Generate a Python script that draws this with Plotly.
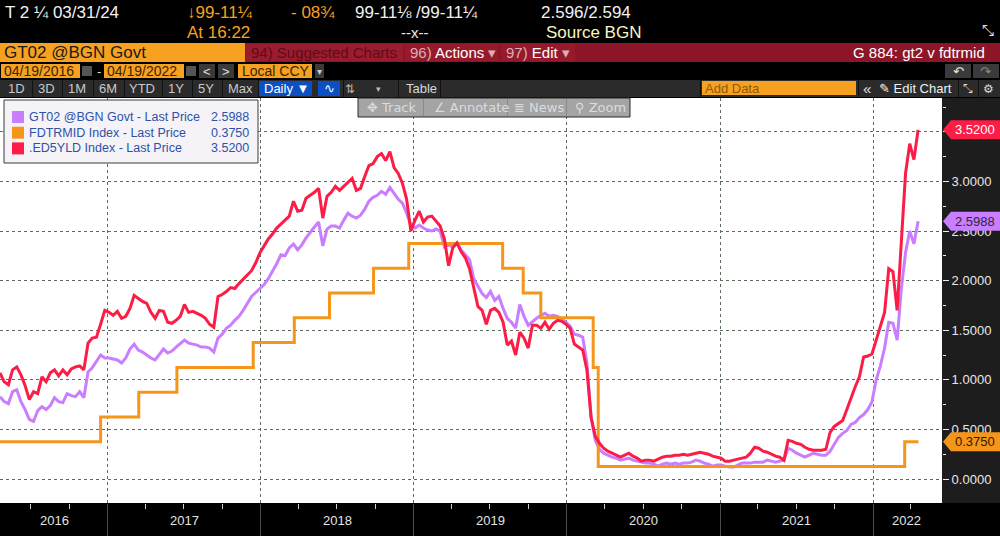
import pandas as pd
import plotly.graph_objects as go

# 10-day samples, 19 Apr 2016 -> 18 Apr 2022
dates = pd.date_range("2016-04-19", periods=220, freq="10D")

gt02 = [
    0.83, 0.78, 0.76, 0.88, 0.90, 0.78, 0.70, 0.60, 0.58, 0.69,
    0.73, 0.70, 0.74, 0.82, 0.78, 0.77, 0.86, 0.84, 0.83, 0.88,
    0.82, 1.08, 1.12, 1.18, 1.25, 1.22, 1.22, 1.21, 1.20, 1.17,
    1.22, 1.31, 1.36, 1.30, 1.28, 1.25, 1.22, 1.20, 1.26, 1.31,
    1.27, 1.29, 1.33, 1.37, 1.40, 1.37, 1.36, 1.35, 1.33, 1.33,
    1.32, 1.28, 1.42, 1.46, 1.52, 1.55, 1.60, 1.64, 1.70, 1.77,
    1.84, 1.88, 1.92, 1.96, 2.02, 2.09, 2.17, 2.26, 2.25, 2.33,
    2.37, 2.31, 2.36, 2.43, 2.49, 2.54, 2.59, 2.35, 2.52, 2.55,
    2.55, 2.53, 2.61, 2.68, 2.65, 2.63, 2.66, 2.72, 2.80, 2.84,
    2.86, 2.90, 2.87, 2.94, 2.88, 2.82, 2.78, 2.68, 2.56, 2.53,
    2.56, 2.53, 2.51, 2.50, 2.52, 2.50, 2.34, 2.36, 2.34, 2.38,
    2.31, 2.26, 2.21, 2.02, 1.94, 1.87, 1.83, 1.89, 1.80, 1.84,
    1.72, 1.62, 1.58, 1.52, 1.76, 1.64, 1.55, 1.59, 1.62, 1.65,
    1.67, 1.64, 1.65, 1.64, 1.61, 1.58, 1.54, 1.46, 1.45, 1.43,
    1.17, 0.62, 0.39, 0.30, 0.26, 0.24, 0.22, 0.21, 0.19, 0.20,
    0.21, 0.19, 0.18, 0.17, 0.16, 0.16, 0.15, 0.13, 0.15, 0.16,
    0.15, 0.16, 0.15, 0.16, 0.16, 0.17, 0.19, 0.18, 0.16, 0.15,
    0.13, 0.14, 0.14, 0.13, 0.12, 0.12, 0.14, 0.16, 0.16, 0.16,
    0.17, 0.17, 0.17, 0.19, 0.18, 0.17, 0.18, 0.19, 0.31, 0.29,
    0.26, 0.24, 0.22, 0.24, 0.26, 0.25, 0.24, 0.24, 0.28, 0.35,
    0.42, 0.46, 0.49, 0.55, 0.57, 0.62, 0.65, 0.70, 0.78, 1.00,
    1.14, 1.32, 1.58, 1.57, 1.40, 1.92, 2.28, 2.50, 2.37, 2.5988,
]

ed5yld = [
    1.07, 0.98, 0.95, 1.10, 1.13, 1.05, 0.94, 0.80, 0.88, 0.86,
    1.03, 0.98, 1.07, 1.10, 1.04, 1.10, 1.05, 1.11, 1.13, 1.14,
    1.10, 1.37, 1.42, 1.43, 1.56, 1.70, 1.68, 1.65, 1.69, 1.62,
    1.64, 1.72, 1.85, 1.82, 1.79, 1.77, 1.68, 1.62, 1.70, 1.69,
    1.58, 1.57, 1.60, 1.64, 1.76, 1.68, 1.69, 1.67, 1.65, 1.62,
    1.56, 1.53, 1.84, 1.86, 1.89, 1.93, 1.92, 1.97, 2.01, 2.05,
    2.10, 2.18, 2.28, 2.35, 2.42, 2.47, 2.53, 2.57, 2.61, 2.65,
    2.80, 2.70, 2.71, 2.83, 2.86, 2.89, 2.93, 2.63, 2.85, 2.89,
    2.95, 2.91, 2.95, 2.99, 3.03, 2.91, 2.93, 3.05, 3.16, 3.18,
    3.25, 3.28, 3.21, 3.30, 3.14, 3.08, 2.98, 2.82, 2.50, 2.61,
    2.70, 2.59, 2.64, 2.65, 2.60, 2.55, 2.42, 2.15, 2.33, 2.38,
    2.29, 2.23, 2.12, 1.92, 1.74, 1.70, 1.56, 1.70, 1.72, 1.68,
    1.58, 1.35, 1.39, 1.25, 1.48, 1.42, 1.32, 1.55, 1.55, 1.52,
    1.58, 1.51, 1.57, 1.60, 1.59, 1.56, 1.52, 1.36, 1.33, 1.30,
    1.10, 0.62, 0.43, 0.36, 0.31, 0.28, 0.26, 0.24, 0.22, 0.24,
    0.26, 0.23, 0.21, 0.18, 0.19, 0.19, 0.18, 0.20, 0.22, 0.23,
    0.23, 0.24, 0.24, 0.25, 0.24, 0.25, 0.26, 0.27, 0.26, 0.25,
    0.23, 0.22, 0.21, 0.18, 0.18, 0.19, 0.20, 0.21, 0.22, 0.26,
    0.32, 0.31, 0.28, 0.27, 0.25, 0.23, 0.22, 0.19, 0.39, 0.38,
    0.36, 0.35, 0.32, 0.30, 0.29, 0.29, 0.29, 0.30, 0.47, 0.53,
    0.56, 0.59, 0.70, 0.82, 0.93, 1.03, 1.23, 1.24, 1.26, 1.40,
    1.55, 1.68, 2.12, 2.09, 1.70, 2.40, 3.08, 3.38, 3.22, 3.52,
]

# fed funds target midpoint, date of each move
fed_dates = ["2016-04-19", "2016-12-15", "2017-03-16", "2017-06-15", "2017-12-14",
             "2018-03-22", "2018-06-14", "2018-09-27", "2018-12-20", "2019-08-01",
             "2019-09-19", "2019-10-31", "2020-03-04", "2020-03-16", "2022-03-17",
             "2022-04-19"]
fdtrmid = [0.375, 0.625, 0.875, 1.125, 1.375, 1.625, 1.875, 2.125, 2.375, 2.125,
           1.875, 1.625, 1.125, 0.125, 0.375, 0.375]

year_starts = ["2017-01-01", "2018-01-01", "2019-01-01", "2020-01-01", "2021-01-01", "2022-01-01"]
year_labels = ["2016", "2017", "2018", "2019", "2020", "2021", "2022"]
year_label_dates = ["2016-08-28", "2017-07-02", "2018-07-02", "2019-07-02",
                    "2020-07-02", "2021-07-02", "2022-03-22"]

y_ticks = [0, 0.5, 1.0, 1.5, 2.0, 2.5, 3.0, 3.5]
y_tick_text = ["0.0000", "0.5000", "1.0000", "1.5000", "2.0000", "2.5000", "3.0000", ""]

series_names = ["GT02 @BGN Govt - Last Price", "FDTRMID Index - Last Price", ".ED5YLD Index - Last Price"]

PURPLE = "#c97dff"
ORANGE = "#f5961b"
RED = "#fb1d45"
AMBER = "#f6a11f"
FONT = "Liberation Sans, Arial, sans-serif"
SYM = "DejaVu Sans"

W, H = 1000, 536
ML, MR, MT, MB = 0, 58, 98, 33
PW, PH = W - ML - MR, H - MT - MB

shapes = []
annotations = []


def px(x):
    return (x - ML) / PW


def py(y):
    return (H - MB - y) / PH


def box(x0, y0, x1, y1, fill, line=None, layer="above"):
    shapes.append(dict(type="rect", xref="paper", yref="paper",
                       x0=px(x0), x1=px(x1), y0=py(y1), y1=py(y0),
                       fillcolor=fill, layer=layer,
                       line=dict(width=1 if line else 0, color=line or fill)))


def text(x, y, s, color, size=14, anchor="left", family=FONT):
    annotations.append(dict(xref="paper", yref="paper", x=px(x), y=py(y), text=s,
                            showarrow=False, xanchor=anchor, yanchor="middle",
                            borderpad=0, font=dict(color=color, size=size, family=family)))


# ---- terminal header ----
text(4, 12, "T 2 ¼ 03/31/24", "#f2f2f2", 17)
text(186, 12, "↓99-11¼", AMBER, 17)
text(290, 12, "- 08¾", AMBER, 17)
text(354, 12, "99-11⅛ /99-11¼", "#f2f2f2", 17)
text(540, 12, "2.596/2.594", "#f2f2f2", 17)
text(186, 32, "At 16:22", AMBER, 17)
text(400, 32, "--x--", "#e8e8e8", 15)
text(545, 32, "Source BGN", "#f8f4c0", 17)
text(988, 30, "⤡", "#e0e0e0", 15, "center", SYM)

# red command bar
box(0, 43, 1000, 62, "#8c1628", layer="below")
box(0, 43, 245, 62, AMBER, layer="below")
text(3, 52.5, "GT02 @BGN Govt", "#1a1a1a", 17)
box(246, 44, 403, 61, "#9b1c2e", layer="below")
text(250, 52.5, "94) Suggested Charts", "#5e0c18", 15)
box(405, 44, 498, 61, "#971a2c", layer="below")
text(409, 52.5, "96) <span style='color:#ffffff'>Actions</span> ▾", "#d8b0b8", 15)
box(501, 44, 575, 61, "#971a2c", layer="below")
text(505, 52.5, "97) <span style='color:#ffffff'>Edit</span> ▾", "#d8b0b8", 15)
text(986, 52.5, "G 884: gt2 v fdtrmid", "#ffffff", 15, "right")

# date range row
box(1, 64, 80, 78, AMBER, layer="below")
text(3, 71, "04/19/2016", "#3a2400", 14)
box(82, 66, 92, 76, "#555555", layer="below")
text(99, 71, "-", "#dddddd", 13, "center")
box(104, 64, 184, 78, AMBER, layer="below")
text(106, 71, "04/19/2022", "#3a2400", 14)
box(186, 66, 196, 76, "#555555", layer="below")
box(199, 64, 215, 78, "#3a3a3a", layer="below")
text(207, 71, "<", "#e0e0e0", 13, "center")
box(218, 64, 234, 78, "#3a3a3a", layer="below")
text(226, 71, ">", "#e0e0e0", 13, "center")
box(238, 64, 312, 78, AMBER, layer="below")
text(241, 71, "Local CCY", "#3a2400", 14)
box(315, 64, 324, 78, "#3a3a3a", layer="below")
text(319.5, 71, "▾", "#cccccc", 10, "center", SYM)
box(945, 64, 971, 78, "#3a3a3a", layer="below")
box(973, 64, 999, 78, "#3a3a3a", layer="below")
text(958, 71, "↶", "#e8e8e8", 13, "center", SYM)
text(986, 71, "↷", "#888888", 13, "center", SYM)

# period buttons row
box(0, 80, 1000, 97, "#2b2b2b", layer="below")
for lbl, xc in [("1D", 16), ("3D", 46), ("1M", 77), ("6M", 108), ("YTD", 142),
                ("1Y", 176), ("5Y", 206), ("Max", 240)]:
    text(xc, 88.5, lbl, "#c8c8c8", 13, "center")
for xs in [32, 62, 93, 124, 162, 192, 222, 258, 343, 398, 440, 700, 858, 958, 978]:
    box(xs, 80, xs + 1, 97, "#111111", layer="below")
box(259, 81, 312, 96, "#0a4fc4", layer="below")
text(263, 88.5, "Daily ▼", "#ffffff", 13)
box(318, 81, 340, 96, "#0a4fc4", layer="below")
text(329, 88.5, "∿", "#ffffff", 13, "center", SYM)
text(350, 88.5, "⇅", "#bbbbbb", 12, "center", SYM)
text(378, 88.5, "▾", "#bbbbbb", 9, "center", SYM)
text(405, 88.5, "Table", "#d8d8d8", 13)
box(702, 81, 856, 95, AMBER, layer="below")
text(704, 88.5, "Add Data", "#8a5a10", 13)
text(867, 88.5, "«", "#e0e0e0", 15, "center")
text(878, 88.5, "✎ Edit Chart", "#f0f0f0", 13)
text(968, 88.5, "⤡", "#dddddd", 12, "center", SYM)
text(988, 88.5, "⚙", "#dddddd", 12, "center", SYM)

# right value panel
box(942, 98, 1000, 503, "#1d1d1d", layer="below")

# chart tool strip
box(358, 98, 630, 117, "#a4a4a4", line="#2a2a2a")
for xs in [423, 507, 566]:
    box(xs, 99, xs + 1, 116, "#8a8a8a")
text(366, 107.5, "✥ Track", "#dcdcdc", 13, family=SYM)
text(433, 107.5, "∠ Annotate", "#dcdcdc", 13, family=SYM)
text(513, 107.5, "≣ News", "#dcdcdc", 13, family=SYM)
text(574, 107.5, "⚲ Zoom", "#dcdcdc", 13, family=SYM)

# legend box
box(4, 100, 258, 163, "#f5f2f8", line="#3a3a3a")
last_vals = [gt02[-1], fdtrmid[-1], ed5yld[-1]]
for i, (nm, col, val) in enumerate(zip(series_names, [PURPLE, ORANGE, RED], last_vals)):
    yc = 117 + i * 15.7
    box(12, yc - 6, 24, yc + 6, col)
    text(28, yc, nm, "#2b53a8", 12.5)
    text(250, yc, f"{val:.4f}", "#2b53a8", 12.5, "right")

# last-value tags on the right axis
h = 9.5 / (PH / 4.083)
for val, col, tc in [(ed5yld[-1], RED, "#ffffff"), (gt02[-1], PURPLE, "#2a2a3a"),
                     (fdtrmid[-1], ORANGE, "#2a2000")]:
    shapes.append(dict(type="path", xref="paper", yref="y", layer="above",
                       path=f"M {px(943)},{val} L {px(951)},{val + h} L {px(1000)},{val + h} "
                            f"L {px(1000)},{val - h} L {px(951)},{val - h} Z",
                       fillcolor=col, line=dict(width=0)))
    annotations.append(dict(xref="paper", yref="y", x=px(975), y=val, text=f"{val:.4f}",
                            showarrow=False, xanchor="center", yanchor="middle",
                            font=dict(color=tc, size=13, family=FONT)))

# year labels under the axis
for lbl, d in zip(year_labels, year_label_dates):
    annotations.append(dict(xref="x", yref="paper", x=d, y=py(520), text=lbl,
                            showarrow=False, xanchor="center", yanchor="middle",
                            font=dict(color="#e4e4e4", size=13, family=FONT)))

fig = go.Figure()

fig.add_trace(go.Scatter(x=dates, y=gt02, mode="lines", name=series_names[0],
                         line=dict(color=PURPLE, width=3)))
fig.add_trace(go.Scatter(x=fed_dates, y=fdtrmid, mode="lines", name=series_names[1],
                         line=dict(color=ORANGE, width=3, shape="hv")))
fig.add_trace(go.Scatter(x=dates, y=ed5yld, mode="lines", name=series_names[2],
                         line=dict(color=RED, width=3)))

fig.update_layout(
    width=W,
    height=H,
    margin=dict(l=ML, r=MR, t=MT, b=MB),
    paper_bgcolor="#000000",
    plot_bgcolor="#ffffff",
    showlegend=False,
    shapes=shapes,
    annotations=annotations,
    xaxis=dict(
        type="date",
        range=["2016-04-19", "2022-06-14"],
        tickmode="array",
        tickvals=year_starts,
        showticklabels=False,
        ticks="outside",
        ticklen=33,
        tickcolor="#4c4c4c",
        showgrid=True,
        gridcolor="#5d6b5d",
        griddash="3px,3px",
        zeroline=False,
        showline=False,
        minor=dict(dtick="M3", tick0="2016-01-01", ticks="outside", ticklen=5,
                   tickcolor="#d0d0d0", showgrid=False),
    ),
    yaxis=dict(
        side="right",
        range=[-0.242, 3.841],
        tickmode="array",
        tickvals=y_ticks,
        ticktext=y_tick_text,
        ticks="outside",
        ticklen=6,
        tickcolor="#f0f0f0",
        tickfont=dict(color="#e8e8e8", size=13, family=FONT),
        showgrid=True,
        gridcolor="#5d6b5d",
        griddash="3px,3px",
        zeroline=False,
        showline=False,
        minor=dict(dtick=0.25, ticks="outside", ticklen=3, tickcolor="#f0f0f0", showgrid=False),
    ),
)

# the terminal window has no page margin around the chart
fig.write_html("out.html", config={"displayModeBar": False},
               post_script="document.body.style.margin='0px';")
